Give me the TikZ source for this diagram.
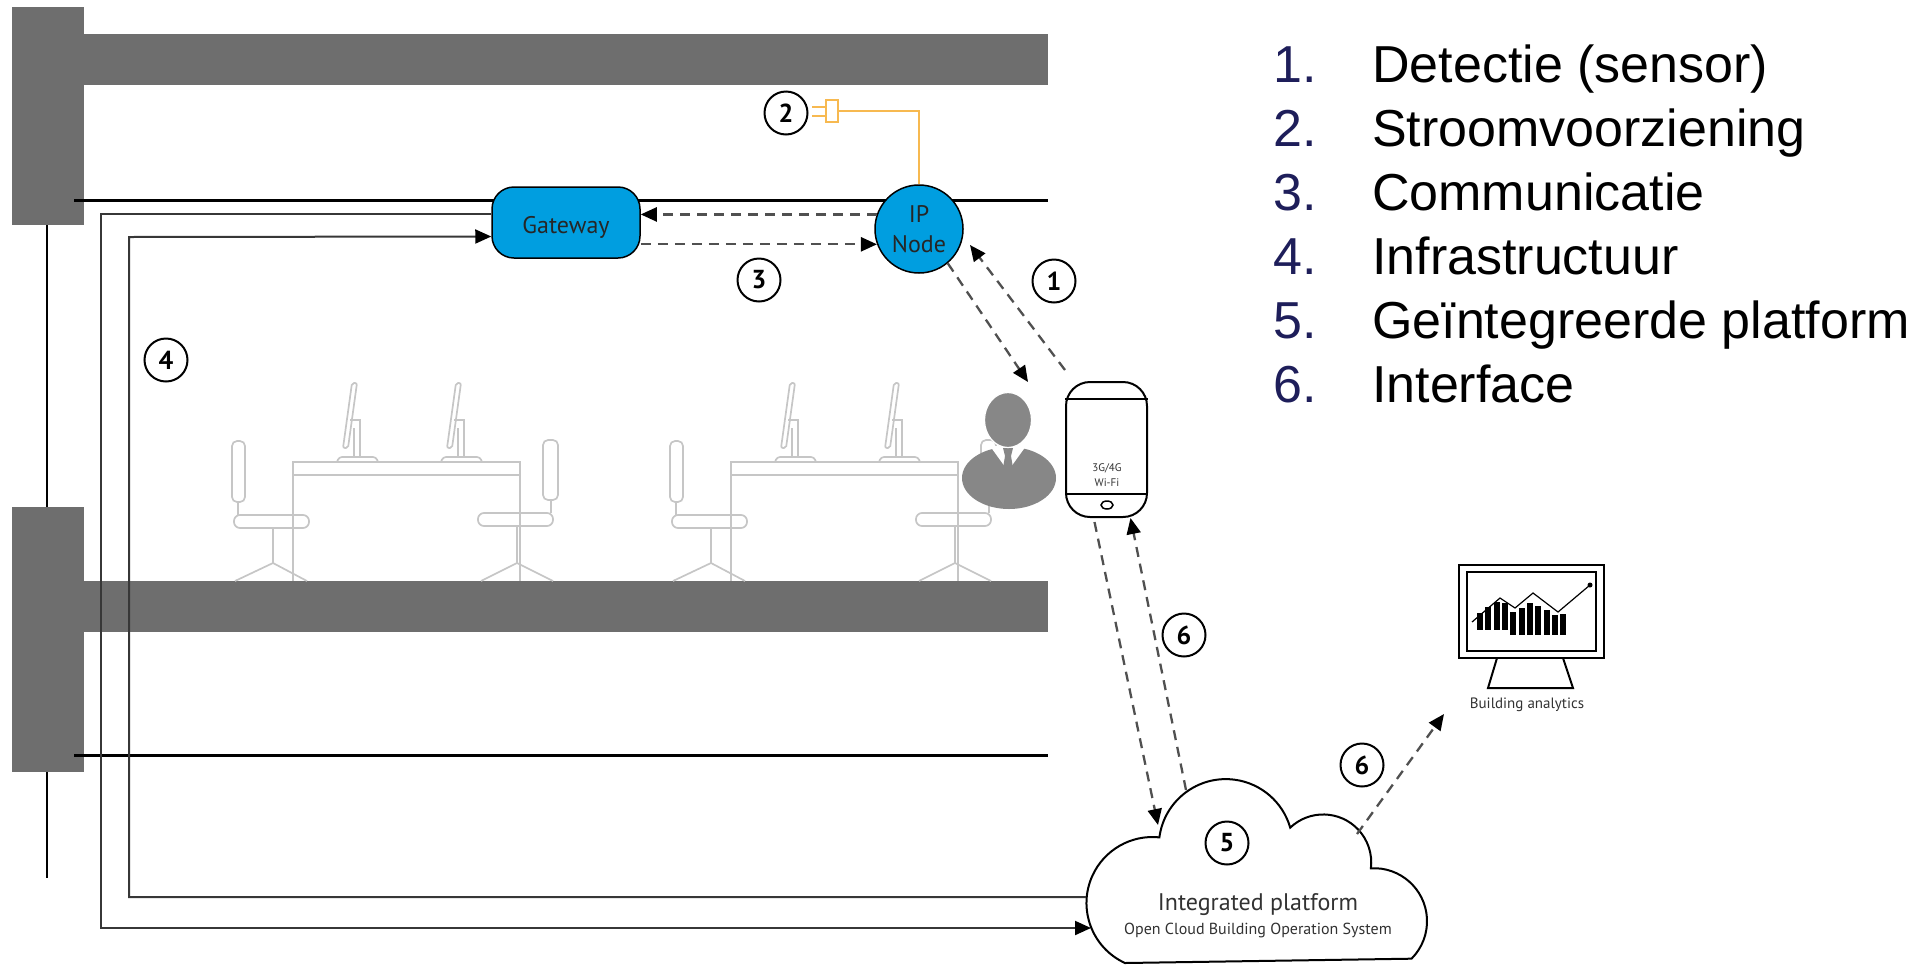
\documentclass[tikz,border=0pt]{standalone}
\usepackage{fontspec}
\setmainfont{Liberation Sans}
\newfontfamily\lblfont{PT Sans}
\usetikzlibrary{arrows.meta,calc,shapes.geometric}

\definecolor{struct}{RGB}{110,110,110}
\definecolor{furn}{RGB}{198,198,198}
\definecolor{nodeblue}{RGB}{0,158,224}
\definecolor{dashgrey}{RGB}{80,80,80}
\definecolor{cablegrey}{RGB}{55,55,55}
\definecolor{power}{RGB}{247,185,80}
\definecolor{persongrey}{RGB}{135,135,135}
\definecolor{listnum}{RGB}{30,30,90}
\definecolor{txtgrey}{RGB}{50,50,50}

\begin{document}
\begin{tikzpicture}[x=1pt,y=-1pt,
  arrowtip/.style={-{Triangle[length=16pt,width=14pt,color=black]}},
  dashlink/.style={arrowtip, draw=dashgrey, line width=2.3pt, dash pattern=on 10pt off 7pt},
  cable/.style={draw=cablegrey, line width=2pt},
  furniture/.style={draw=furn, line width=1.7pt},
  badge/.style={circle, draw, line width=2pt, minimum size=43pt, inner sep=0pt, fill=white,
    font=\lblfont\bfseries\fontsize{26}{26}\selectfont},
  bluebox/.style={draw, line width=1.5pt, fill=nodeblue, inner sep=0pt,
    font=\lblfont\fontsize{24}{29}\selectfont, text=black!85},
  legnum/.style={anchor=base west, text=listnum, font=\fontsize{52}{52}\selectfont, inner sep=0pt},
  legtxt/.style={anchor=base west, text=black, font=\fontsize{52}{52}\selectfont, inner sep=0pt}]

\useasboundingbox (0,0) rectangle (1926,967);

% ---- building structure: columns, slabs, ceilings ----
\fill[struct] (12,7) rectangle (84,225);
\fill[struct] (84,34) rectangle (1048,85);
\fill[struct] (12,507) rectangle (84,772);
\fill[struct] (84,581) rectangle (1048,632);
\draw[line width=1.5pt] (47,225) -- (47,507);
\draw[line width=1.5pt] (47,772) -- (47,878);
\draw[line width=3pt] (74,200) -- (1048,200);
\draw[line width=3pt] (74,755) -- (1048,755);

% ---- office furniture: two desks with monitors and chairs ----
\foreach \dx in {0,438}{
  \begin{scope}[xshift=\dx pt, furniture]
    % desk
    \draw (293,462) rectangle (520,475);
    \draw[line width=2.6pt] (293,475) -- (520,475);
    \draw[line width=2.6pt] (293,475) -- (293,581);
    \draw[line width=2.6pt] (520,475) -- (520,581);
    % monitors (side view)
    \foreach \mx in {357,461}{
      \draw[rounded corners=2pt] (\mx-5,383) -- (\mx,383) -- (\mx-9,448) -- (\mx-14,448) -- cycle;
      \draw (\mx-7,420) -- (\mx+3,420) -- (\mx+3,457);
      \draw (\mx-3,428) -- (\mx-3,457);
      \draw[rounded corners=3pt] (\mx-20,462) -- (\mx-18,457) -- (\mx+19,457) -- (\mx+21,462);
    }
    % chair facing right
    \draw[rounded corners=5pt] (232,441) rectangle (245,502);
    \draw (238,502) -- (238,515);
    \draw[rounded corners=6pt] (234,515) rectangle (309,528);
    \draw (273,528) -- (273,563);
    \draw (235,581) -- (273,563) -- (307,581);
    % chair facing left
    \draw[rounded corners=5pt] (543,440) rectangle (558,500);
    \draw (551,500) -- (551,513);
    \draw[rounded corners=6pt] (478,513) rectangle (553,526);
    \draw (517,526) -- (517,563);
    \draw (481,581) -- (517,563) -- (553,581);
  \end{scope}
}

% ---- gateway and IP node ----
\node[bluebox, rounded corners=22pt, minimum width=148pt, minimum height=71pt,
      text height=22pt, text depth=0pt] (gw) at (566,222.5) {Gateway};
\node[bluebox, circle, minimum size=88pt, align=center] (ip) at (919,229) {IP\\[1pt]Node};

% ---- power supply to the IP node ----
\node[draw=power, line width=2pt, minimum width=12pt, minimum height=22pt, inner sep=0pt] (plug) at (832,111) {};
\draw[power, line width=2pt] (ip.north) |- (plug.east);
\draw[power, line width=2pt] ([yshift=4pt]plug.west) -- ++(-13,0);
\draw[power, line width=2pt] ([yshift=-5pt]plug.west) -- ++(-13,0);

% ---- cloud platform ----
\draw[line width=2pt, fill=white]
  (1125,963) arc[start angle=114.6, end angle=276, radius=66]
  arc[start angle=187.5, end angle=344, radius=67]
  arc[start angle=226.5, end angle=367, radius=48]
  arc[start angle=266.6, end angle=405, radius=53] -- cycle;
\node[font=\lblfont\fontsize{24}{24}\selectfont, text=txtgrey] (cloudtitle) at (1258,905) {Integrated platform};
\node[font=\lblfont\fontsize{16}{16}\selectfont, text=txtgrey] (cloudsub) at (1258,930) {Open Cloud Building Operation System};
\coordinate (cloudIn) at (1091,928);
\coordinate (cloudOut) at (1086,897);
\coordinate (cloudTopA) at (1158,825);
\coordinate (cloudTopB) at (1186,790);
\coordinate (cloudRight) at (1357,834);

% ---- infrastructure cabling ----
\draw[cable, arrowtip] ([yshift=9pt]gw.west) -| (101,928) -- (cloudIn);
\draw[cable, arrowtip] (cloudOut) -| (129,237) -- ([yshift=-14pt]gw.west);

% ---- communication between gateway and IP node ----
\draw[dashlink] (ip.161) -- (gw.east |- ip.161);
\draw[dashlink] (gw.east |- ip.200) -- (ip.200);

% ---- person ----
\fill[persongrey] (1009,478) ellipse [x radius=47, y radius=31];
\fill[white] (990,446) -- (1008,471) -- (1026,446) -- cycle;
\fill[persongrey] (1003,448) -- (1013,448) -- (1011,456) -- (1013,468) -- (1008,474) -- (1003,468) -- (1005,456) -- cycle;
\node[ellipse, fill=persongrey, draw=white, line width=1.2pt, minimum width=47pt, minimum height=55pt, inner sep=0pt] (head) at (1008,420) {};

% ---- smartphone ----
\node[draw, line width=2pt, rounded corners=24pt, minimum width=81pt, minimum height=135pt, inner sep=0pt, fill=white] (phone) at (1106.5,449.5) {};
\draw[line width=1.5pt] (phone.west |- 0,399) -- (phone.east |- 0,399);
\draw[line width=1.5pt] (phone.west |- 0,494) -- (phone.east |- 0,494);
\draw[line width=1.5pt] (1107,505) ellipse [x radius=6, y radius=4];
\node[font=\lblfont\fontsize{11}{11}\selectfont, text=txtgrey, inner sep=0pt] (net1) at (1107,468) {3G/4G};
\node[font=\lblfont\fontsize{11}{11}\selectfont, text=txtgrey, inner sep=0pt] (net2) at (1107,483) {Wi-Fi};

% ---- detection links ----
\coordinate (personTop) at (1028,382);
\coordinate (phoneTop) at (1065,370);
\coordinate (ipIn) at (970,245);
\draw[dashlink] (ip.-50) -- (personTop);
\draw[dashlink] (phoneTop) -- (ipIn);

% ---- interface links ----
\draw[dashlink] ([xshift=-12pt,yshift=-4pt]phone.south) -- (cloudTopA);
\draw[dashlink] (cloudTopB) -- ([xshift=24pt]phone.south);

% ---- building analytics screen ----
\node[draw, line width=2pt, minimum width=145pt, minimum height=93pt, inner sep=0pt] (screen) at (1531.5,611.5) {};
\draw[line width=1.5pt] (1467,572) rectangle (1596,651);
\draw[line width=2pt] (1497,658) -- (1488,688) -- (1573,688) -- (1563,658);
\foreach \bx/\bt/\bb in {1480/613/630,1488/607/630,1497/602/630,1505/603/630,1513/612/635,1522/608/635,1530/603/635,1538/606/635,1547/610/635,1555/615/635,1563/614/635}
  \fill (\bx-3.3,\bt) rectangle (\bx+3.3,\bb);
\draw[line width=1.2pt] (1472,622) -- (1500,598) -- (1515,608) -- (1533,593) -- (1558,612) -- (1590,585);
\fill (1590,585) circle (2.5);
\node[font=\lblfont\fontsize{15}{15}\selectfont, text=txtgrey] (analytics) at (1527,705) {Building analytics};
\coordinate (screenIn) at (1444,714);
\draw[dashlink] (cloudRight) -- (screenIn);

% ---- numbered markers ----
\node[badge] (b1) at (1054,281) {1};
\node[badge] (b2) at (786,113) {2};
\node[badge] (b3) at (759,280) {3};
\node[badge] (b4) at (166,360) {4};
\node[badge] (b5) at (1227,843) {5};
\node[badge] (b6a) at (1184,635) {6};
\node[badge] (b6b) at (1362,765) {6};

% ---- legend ----
\foreach \i/\t [count=\k from 0] in {1/Detectie (sensor),2/Stroomvoorziening,3/Communicatie,4/Infrastructuur,5/Geïntegreerde platform,6/Interface}{
  \node[legnum] (num\i) at (1273,{82+64*\k}) {\i.};
  \node[legtxt] (item\i) at (1372,{82+64*\k}) {\t};
}
\end{tikzpicture}
\end{document}
